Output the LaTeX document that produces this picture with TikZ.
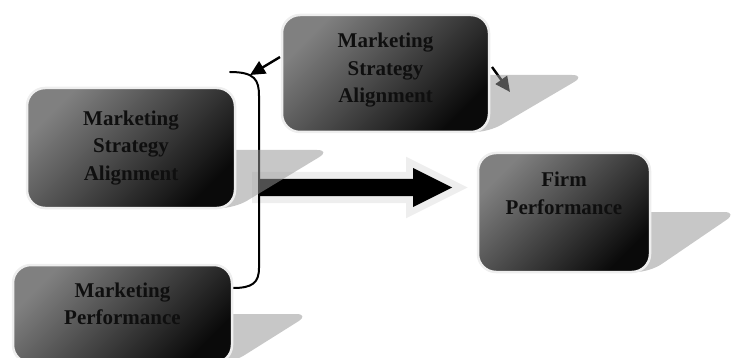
\documentclass[tikz,border=0pt]{standalone}
\usepackage{fontspec}
\setmainfont{Liberation Serif}
\usetikzlibrary{arrows.meta,calc}
\definecolor{boxlight}{RGB}{128,128,128}
\definecolor{boxdark}{RGB}{10,10,10}
\definecolor{rimc}{RGB}{238,238,238}
\definecolor{shadec}{RGB}{150,150,150}
\definecolor{fatrim}{RGB}{238,238,238}
\definecolor{fatshade}{RGB}{180,180,180}
\definecolor{inkc}{RGB}{15,15,15}
\pgfdeclarelayer{links}
\pgfdeclarelayer{shades}
\pgfsetlayers{links,shades,main}

\begin{document}
\begin{tikzpicture}[x=1pt,y=-1pt,
  card/.style={rounded corners=18pt, draw=rimc, line width=2.5pt,
    top color=boxlight, bottom color=boxdark, shading angle=45,
    inner sep=0pt, outer sep=0pt},
  caption/.style={font=\fontsize{21}{27.5}\selectfont\bfseries,
    align=center, text=inkc, inner sep=0pt},
  cast/.style={fill=shadec, fill opacity=0.53, rounded corners=14pt},
  link/.style={line width=2.4pt, -{Triangle[length=15pt,width=14pt]}},
  brace/.style={line width=2pt, line cap=round},
  fatrimline/.style={draw=fatrim, line width=14pt, miter limit=10},
  fatshadow/.style={fill=fatshade, draw=fatshade, line width=9pt},
  fatbody/.style={fill=black}
]
\useasboundingbox (0,0) rectangle (738,358);

% boxes
\node[card, minimum width=207pt, minimum height=117pt] (msaTop) at (385.5,73.5) {};
\node[card, minimum width=208pt, minimum height=120pt] (msaLeft) at (131,148) {};
\node[card, minimum width=219pt, minimum height=98pt] (mperf) at (122.5,314) {};
\node[card, minimum width=172pt, minimum height=119pt] (fperf) at (564,212.5) {};

% box captions
\node[caption] (msaTopT) at (385.5,70.5) {Marketing\\Strategy\\Alignment};
\node[caption] (msaLeftT) at (131,147.6) {Marketing\\Strategy\\Alignment};
\node[caption] (mperfT) at (122.5,303.7) {Marketing\\Performance};
\node[caption] (fperfT) at (564,193.5) {Firm\\Performance};

% end points of the connectors
\coordinate (brTop) at (230,72);
\coordinate (brBot) at ($(mperf.east)+(1,-26)$);
\coordinate (tipL) at (250,75);
\coordinate (tipR) at (510,92);
\coordinate (fatS) at (259,187.5);
\coordinate (fatT) at (452,187.5);

\newcommand\fatarrow{%
  ($(fatS)+(0,-8.5)$) -- ($(fatT)+(-39,-8.5)$) -- ($(fatT)+(-39,-19.5)$) --
  (fatT) -- ($(fatT)+(-39,19.5)$) -- ($(fatT)+(-39,8.5)$) --
  ($(fatS)+(0,8.5)$) -- cycle}

\begin{pgfonlayer}{links}
  % block arrow with rim and drop shadow
  \begin{scope}[shift={(2,8)}]
    \path[fatshadow] \fatarrow;
  \end{scope}
  \path[fatrimline] \fatarrow;
  \path[fatbody] \fatarrow;
  % bracket joining the two left boxes
  \draw[brace] (brTop) .. controls (255,72) and (259,80) .. (259,96)
    -- (259,268) .. controls (259,283) and (252,288) .. (brBot);
  % small arrows leaving the top box
  \draw[link] ($(msaTop.west)+(-2,-16.5)$) -- (tipL);
  \draw[link] ($(msaTop.east)+(3,-6.5)$) -- (tipR);
\end{pgfonlayer}

\begin{pgfonlayer}{shades}
  \path[cast] ($(msaTop.south west)+(20,0)$) -- (msaTop.south east)
    -- ($(msaTop.south east)+(97,-57)$) -- ($(msaTop.south west)+(97,-57)$) -- cycle;
  \path[cast] ($(msaLeft.south west)+(20,0)$) -- (msaLeft.south east)
    -- ($(msaLeft.south east)+(96,-58)$) -- ($(msaLeft.south west)+(96,-58)$) -- cycle;
  \path[cast] ($(fperf.south west)+(20,0)$) -- (fperf.south east)
    -- ($(fperf.south east)+(88,-60)$) -- ($(fperf.south west)+(88,-60)$) -- cycle;
  \path[cast] ($(mperf.south west)+(20,0)$) -- (mperf.south east)
    -- ($(mperf.south east)+(78,-49)$) -- ($(mperf.south west)+(78,-49)$) -- cycle;
\end{pgfonlayer}
\end{tikzpicture}
\end{document}
